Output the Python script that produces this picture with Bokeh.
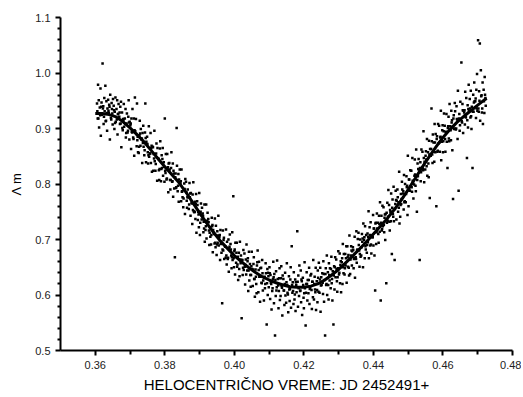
from bokeh.plotting import figure
from bokeh.models import Range1d, FixedTicker, NumeralTickFormatter
from bokeh.embed import file_html
from bokeh.resources import INLINE

# observation times (HJD fraction, units of 1e-4) and magnitude differences (units of 1e-3)
t_obs = [
3605,3607,3608,3610,3611, 3613,3615,3616,3618,3619, 3621,3623,3624,3626,3627, 3629,3631,3632,3634,3635,
3637,3639,3640,3642,3643, 3645,3647,3648,3650,3651, 3653,3655,3656,3658,3659, 3661,3663,3664,3666,3667,
3669,3671,3672,3674,3675, 3677,3679,3680,3682,3683, 3685,3687,3688,3690,3691, 3693,3695,3696,3698,3699,
3701,3703,3704,3706,3707, 3709,3711,3712,3714,3715, 3717,3719,3720,3722,3723, 3725,3727,3728,3730,3731,
3733,3735,3736,3738,3739, 3741,3743,3744,3746,3747, 3749,3751,3752,3754,3755, 3757,3759,3760,3762,3763,
3765,3767,3768,3770,3771, 3773,3775,3776,3778,3779, 3781,3783,3784,3786,3787, 3789,3791,3792,3794,3795,
3797,3799,3800,3802,3803, 3805,3807,3808,3810,3811, 3813,3815,3816,3818,3819, 3821,3823,3824,3826,3827,
3829,3831,3832,3834,3835, 3837,3839,3840,3842,3843, 3845,3847,3848,3850,3851, 3853,3855,3856,3858,3859,
3861,3863,3864,3866,3867, 3869,3871,3872,3874,3875, 3877,3879,3880,3882,3883, 3885,3887,3888,3890,3891,
3893,3895,3896,3898,3899, 3901,3903,3904,3906,3907, 3909,3911,3912,3914,3915, 3917,3919,3920,3922,3923,
3925,3927,3928,3930,3931, 3933,3935,3936,3938,3939, 3941,3943,3944,3946,3947, 3949,3951,3952,3954,3955,
3957,3959,3960,3962,3963, 3965,3967,3968,3970,3971, 3973,3975,3976,3978,3979, 3981,3983,3984,3986,3987,
3989,3991,3992,3994,3995, 3997,3999,4000,4002,4003, 4005,4007,4008,4010,4011, 4013,4015,4016,4018,4019,
4021,4023,4024,4026,4027, 4029,4031,4032,4034,4035, 4037,4039,4040,4042,4043, 4045,4047,4048,4050,4051,
4053,4055,4056,4058,4059, 4061,4063,4064,4066,4067, 4069,4071,4072,4074,4075, 4077,4079,4080,4082,4083,
4085,4087,4088,4090,4091, 4093,4095,4096,4098,4099, 4101,4103,4104,4106,4107, 4109,4111,4112,4114,4115,
4117,4119,4120,4122,4123, 4125,4127,4128,4130,4131, 4133,4135,4136,4138,4139, 4141,4143,4144,4146,4147,
4149,4151,4152,4154,4155, 4157,4159,4160,4162,4163, 4165,4167,4168,4170,4171, 4173,4175,4176,4178,4179,
4181,4183,4184,4186,4187, 4189,4191,4192,4194,4195, 4197,4199,4200,4202,4203, 4205,4207,4208,4210,4211,
4213,4215,4216,4218,4219, 4221,4223,4224,4226,4227, 4229,4231,4232,4234,4235, 4237,4239,4240,4242,4243,
4245,4247,4248,4250,4251, 4253,4255,4256,4258,4259, 4261,4263,4264,4266,4267, 4269,4271,4272,4274,4275,
4277,4279,4280,4282,4283, 4285,4287,4288,4290,4291, 4293,4295,4296,4298,4299, 4301,4303,4304,4306,4307,
4309,4311,4312,4314,4315, 4317,4319,4320,4322,4323, 4325,4327,4328,4330,4331, 4333,4335,4336,4338,4339,
4341,4343,4344,4346,4347, 4349,4351,4352,4354,4355, 4357,4359,4360,4362,4363, 4365,4367,4368,4370,4371,
4373,4375,4376,4378,4379, 4381,4383,4384,4386,4387, 4389,4391,4392,4394,4395, 4397,4399,4400,4402,4403,
4405,4407,4408,4410,4411, 4413,4415,4416,4418,4419, 4421,4423,4424,4426,4427, 4429,4431,4432,4434,4435,
4437,4439,4440,4442,4443, 4445,4447,4448,4450,4451, 4453,4455,4456,4458,4459, 4461,4463,4464,4466,4467,
4469,4471,4472,4474,4475, 4477,4479,4480,4482,4483, 4485,4487,4488,4490,4491, 4493,4495,4496,4498,4499,
4501,4503,4504,4506,4507, 4509,4511,4512,4514,4515, 4517,4519,4520,4522,4523, 4525,4527,4528,4530,4531,
4533,4535,4536,4538,4539, 4541,4543,4544,4546,4547, 4549,4551,4552,4554,4555, 4557,4559,4560,4562,4563,
4565,4567,4568,4570,4571, 4573,4575,4576,4578,4579, 4581,4583,4584,4586,4587, 4589,4591,4592,4594,4595,
4597,4599,4600,4602,4603, 4605,4607,4608,4610,4611, 4613,4615,4616,4618,4619, 4621,4623,4624,4626,4627,
4629,4631,4632,4634,4635, 4637,4639,4640,4642,4643, 4645,4647,4648,4650,4651, 4653,4655,4656,4658,4659,
4661,4663,4664,4666,4667, 4669,4671,4672,4674,4675, 4677,4679,4680,4682,4683, 4685,4687,4688,4690,4691,
4693,4695,4696,4698,4699, 4701,4703,4704,4706,4707, 4709,4711,4712,4714,4715, 4717,4719,4720,4722,4723,
]

dm_obs = [
945,918,979,951,902, 938,972,887,947,925, 1017,940,908,955,931, 977,914,949,896,936,
952,928,943,880,961, 919,946,935,907,953, 941,899,930,956,912, 935,951,889,926,944,
921,908,939,948,866, 929,897,917,944,903, 918,935,884,909,927, 893,921,951,880,912,
906,863,918,893,935, 884,918,851,956,895, 917,868,945,885,857, 856,888,914,869,899,
880,838,892,905,867, 852,893,945,839,876, 885,857,837,904,849, 855,892,838,869,822,
867,824,854,896,841, 824,855,873,806,865, 846,825,807,864,877, 805,852,829,865,815,
839,804,918,820,854, 808,854,826,785,837, 838,807,790,829,857, 804,837,777,819,792,
668,819,793,901,833, 787,818,768,803,826, 801,769,826,787,776, 758,789,801,746,809,
804,770,757,790,776, 755,802,776,743,784, 766,728,781,803,751, 749,768,737,782,712,
769,735,750,722,784, 708,750,765,736,757, 747,713,732,763,696, 717,763,702,734,748,
737,716,690,722,705, 691,739,724,677,717, 712,693,738,686,725, 672,715,694,743,689,
704,663,717,693,676, 585,716,680,703,665, 688,667,718,655,696, 665,700,642,687,709,
692,671,648,713,663, 778,650,679,637,694, 658,694,651,669,627, 676,634,696,657,671,
558,663,636,681,645, 675,619,654,637,691, 644,666,607,678,626, 656,615,636,678,647,
616,656,668,629,597, 646,620,603,659,680, 605,660,633,588,648, 649,621,663,608,626,
590,633,612,657,639, 547,647,600,634,614, 650,593,636,620,574, 607,629,660,585,638,
527,598,643,614,662, 629,576,607,648,591, 598,652,616,563,635, 629,608,582,640,599,
586,657,618,601,569, 634,589,611,650,577, 688,604,623,584,641, 592,628,571,618,605,
715,579,635,598,653, 607,644,587,625,564, 631,595,576,659,612, 545,620,641,590,627,
603,649,584,612,635, 638,575,624,596,663, 592,633,610,649,573, 625,587,644,606,658,
604,649,570,632,618, 639,602,661,588,627, 527,648,618,671,600, 641,592,657,626,648,
612,669,621,590,643, 547,652,610,668,632, 664,625,606,648,679, 637,675,621,661,605,
659,620,692,639,674, 637,674,653,688,622, 688,651,672,635,707, 638,671,688,653,679,
686,648,665,705,631, 668,715,658,682,701, 712,680,651,700,669, 671,710,696,650,729,
699,666,724,682,708, 676,711,695,751,666, 722,689,731,675,707, 704,744,689,720,671,
608,730,692,747,720, 730,694,743,714,767, 590,743,716,761,724, 758,713,739,699,746,
621,730,766,741,789, 762,716,753,733,783, 674,772,746,795,733, 663,764,788,736,770,
790,750,767,822,729, 741,782,764,804,790, 783,754,816,769,800, 767,814,794,744,851,
760,808,788,825,796, 824,786,847,801,774, 799,844,817,787,862, 750,837,814,845,826,
663,839,805,862,828, 858,825,895,803,840, 826,859,844,881,815, 857,812,878,775,863,
851,936,877,838,889, 875,840,908,857,890, 760,886,858,908,873, 905,858,884,932,843,
876,906,857,895,927, 905,858,894,926,876, 829,904,921,877,944, 904,879,932,915,861,
773,924,899,946,931, 898,940,917,881,968, 788,926,896,948,917, 1019,911,944,892,932,
929,907,966,920,955, 847,942,902,979,931, 953,920,968,899,939, 829,961,930,983,949,
949,919,970,998,932, 1059,930,967,1053,914, 1005,960,929,983,908, 970,928,993,955,941,
]

# further observations lying close to the fitted curve
t_near = [
3606,3609, 3614,3617, 3622,3625, 3630,3633, 3638,3641, 3646,3649, 3654,3657, 3662,3665, 3670,3673, 3678,3681,
3686,3689, 3694,3697, 3702,3705, 3710,3713, 3718,3721, 3726,3729, 3734,3737, 3742,3745, 3750,3753, 3758,3761,
3766,3769, 3774,3777, 3782,3785, 3790,3793, 3798,3801, 3806,3809, 3814,3817, 3822,3825, 3830,3833, 3838,3841,
3846,3849, 3854,3857, 3862,3865, 3870,3873, 3878,3881, 3886,3889, 3894,3897, 3902,3905, 3910,3913, 3918,3921,
3926,3929, 3934,3937, 3942,3945, 3950,3953, 3958,3961, 3966,3969, 3974,3977, 3982,3985, 3990,3993, 3998,4001,
4006,4009, 4014,4017, 4022,4025, 4030,4033, 4038,4041, 4046,4049, 4054,4057, 4062,4065, 4070,4073, 4078,4081,
4086,4089, 4094,4097, 4102,4105, 4110,4113, 4118,4121, 4126,4129, 4134,4137, 4142,4145, 4150,4153, 4158,4161,
4166,4169, 4174,4177, 4182,4185, 4190,4193, 4198,4201, 4206,4209, 4214,4217, 4222,4225, 4230,4233, 4238,4241,
4246,4249, 4254,4257, 4262,4265, 4270,4273, 4278,4281, 4286,4289, 4294,4297, 4302,4305, 4310,4313, 4318,4321,
4326,4329, 4334,4337, 4342,4345, 4350,4353, 4358,4361, 4366,4369, 4374,4377, 4382,4385, 4390,4393, 4398,4401,
4406,4409, 4414,4417, 4422,4425, 4430,4433, 4438,4441, 4446,4449, 4454,4457, 4462,4465, 4470,4473, 4478,4481,
4486,4489, 4494,4497, 4502,4505, 4510,4513, 4518,4521, 4526,4529, 4534,4537, 4542,4545, 4550,4553, 4558,4561,
4566,4569, 4574,4577, 4582,4585, 4590,4593, 4598,4601, 4606,4609, 4614,4617, 4622,4625, 4630,4633, 4638,4641,
4646,4649, 4654,4657, 4662,4665, 4670,4673, 4678,4681, 4686,4689, 4694,4697, 4702,4705, 4710,4713, 4718,4721,
]

dm_near = [
931,918, 924,939, 936,921, 913,928, 932,939, 916,927, 933,910, 916,926, 929,909, 901,915,
908,892, 896,911, 909,894, 881,897, 890,879, 867,891, 882,874, 861,883, 872,852, 855,865,
866,846, 836,848, 845,827, 827,845, 831,824, 810,830, 826,807, 805,824, 812,794, 797,808,
805,786, 774,791, 785,776, 763,783, 765,753, 750,764, 762,745, 730,744, 743,720, 724,733,
731,712, 708,726, 710,694, 691,707, 708,692, 682,699, 687,671, 667,684, 682,668, 666,682,
676,655, 647,664, 663,649, 651,664, 661,644, 636,652, 646,629, 633,653, 645,633, 622,639,
632,620, 621,640, 639,622, 612,632, 627,608, 617,630, 630,613, 608,620, 623,604, 610,628,
618,607, 601,623, 624,612, 608,628, 618,603, 604,620, 627,611, 609,624, 620,605, 609,631,
628,617, 622,638, 638,620, 618,636, 647,629, 635,650, 647,632, 640,654, 666,650, 648,666,
668,649, 664,680, 681,666, 665,680, 690,674, 686,702, 704,688, 690,705, 708,691, 704,720,
729,713, 710,728, 730,719, 726,745, 748,734, 732,750, 757,741, 755,771, 776,757, 762,773,
787,767, 782,797, 808,788, 794,806, 815,797, 807,827, 829,821, 828,847, 851,832, 837,853,
863,853, 858,875, 881,860, 875,885, 897,877, 881,893, 901,882, 897,911, 918,900, 900,916,
918,906, 913,933, 933,921, 915,935, 936,922, 930,947, 954,936, 936,950, 958,936, 949,961,
]

# fitted light curve
fit_t = [0.360, 0.362, 0.364, 0.366, 0.368, 0.370, 0.372, 0.374, 0.376, 0.378, 0.380, 0.382,
         0.384, 0.386, 0.388, 0.390, 0.392, 0.394, 0.396, 0.398, 0.400, 0.402, 0.404, 0.406,
         0.408, 0.410, 0.412, 0.414, 0.416, 0.418, 0.420, 0.422, 0.424, 0.426, 0.428, 0.430,
         0.432, 0.434, 0.436, 0.438, 0.440, 0.442, 0.444, 0.446, 0.448, 0.450, 0.452, 0.454,
         0.456, 0.458, 0.460, 0.462, 0.464, 0.466, 0.468, 0.470, 0.472, 0.4726]
fit_dm = [0.927, 0.927, 0.925, 0.921, 0.912, 0.901, 0.889, 0.876, 0.861, 0.846, 0.831, 0.817,
          0.803, 0.786, 0.767, 0.748, 0.730, 0.713, 0.697, 0.684, 0.671, 0.660, 0.650, 0.641,
          0.633, 0.627, 0.622, 0.618, 0.615, 0.614, 0.614, 0.616, 0.620, 0.627, 0.636, 0.646,
          0.658, 0.670, 0.683, 0.696, 0.710, 0.724, 0.738, 0.754, 0.771, 0.790, 0.810, 0.830,
          0.849, 0.867, 0.884, 0.898, 0.911, 0.922, 0.932, 0.942, 0.952, 0.954]

x_ticks = [0.36, 0.38, 0.40, 0.42, 0.44, 0.46, 0.48]
x_minor = [0.37, 0.39, 0.41, 0.43, 0.45, 0.47]
y_ticks = [0.5, 0.6, 0.7, 0.8, 0.9, 1.0, 1.1]
y_minor = [0.52, 0.54, 0.56, 0.58, 0.62, 0.64, 0.66, 0.68, 0.72, 0.74, 0.76, 0.78,
           0.82, 0.84, 0.86, 0.88, 0.92, 0.94, 0.96, 0.98, 1.02, 1.04, 1.06, 1.08]

n1 = min(len(t_obs), len(dm_obs))
n2 = min(len(t_near), len(dm_near))
xs = [v / 10000 for v in t_obs[:n1]] + [v / 10000 for v in t_near[:n2]]
ys = [v / 1000 for v in dm_obs[:n1]] + [v / 1000 for v in dm_near[:n2]]

p = figure(width=521, height=395, x_range=Range1d(0.35, 0.48), y_range=Range1d(0.5, 1.1),
           output_backend="svg", toolbar_location=None,
           min_border_left=60, min_border_right=9, min_border_top=17, min_border_bottom=45)
p.outline_line_color = None
p.grid.visible = False
p.background_fill_color = "white"

p.scatter(xs, ys, marker="square", size=2.5, color="black", line_width=0)
p.line(fit_t, fit_dm, line_width=3, color="black")

font = "Liberation Sans"
for ax in (p.xaxis[0], p.yaxis[0]):
    ax.axis_line_width = 2
    ax.axis_line_color = "black"
    ax.major_tick_line_width = 2
    ax.minor_tick_line_width = 2
    ax.major_tick_in = 0
    ax.minor_tick_in = 0
    ax.major_label_text_font = font
    ax.major_label_text_font_size = "11px"
    ax.major_label_text_color = "#222222"
    ax.axis_label_text_font = font
    ax.axis_label_text_font_style = "normal"
    ax.axis_label_text_color = "black"

p.xaxis.ticker = FixedTicker(ticks=x_ticks, minor_ticks=x_minor)
p.yaxis.ticker = FixedTicker(ticks=y_ticks, minor_ticks=y_minor)
p.xaxis.formatter = NumeralTickFormatter(format="0.00")
p.yaxis.formatter = NumeralTickFormatter(format="0.0")
p.xaxis.major_tick_out = 5
p.xaxis.minor_tick_out = 4
p.yaxis.major_tick_out = 5
p.yaxis.minor_tick_out = 3
p.xaxis.major_label_standoff = 5
p.yaxis.major_label_standoff = 5
p.xaxis.axis_label = "HELOCENTRIČNO VREME: JD 2452491+"
p.xaxis.axis_label_text_font_size = "15px"
p.xaxis.axis_label_standoff = 4
p.yaxis.axis_label = "Λ m"
p.yaxis.axis_label_text_font_size = "13px"
p.yaxis.axis_label_standoff = 8

open("out.html", "w").write(file_html(p, INLINE))
